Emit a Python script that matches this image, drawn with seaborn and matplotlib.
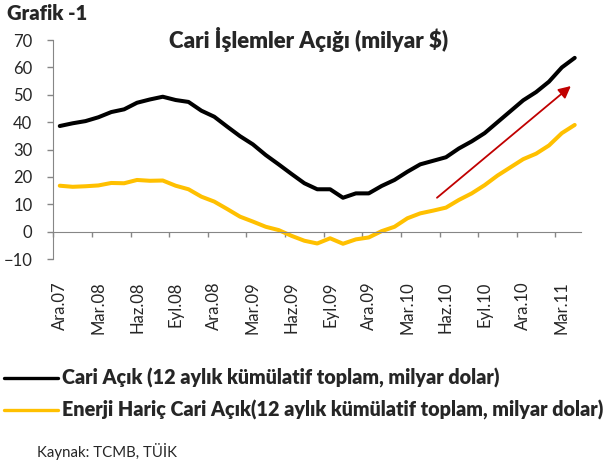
import matplotlib.pyplot as plt
import numpy as np
import pandas as pd
import seaborn as sns

# monthly, Ara.07 .. Nis.11 (41 months)
months = list(range(41))
cari_acik = [38.6, 39.6, 40.4, 41.8, 43.7, 44.7, 47.1, 48.3, 49.3, 48.1, 47.4,
             44.2, 42.0, 38.4, 34.9, 31.9, 28.0, 24.6, 21.1, 17.7, 15.5, 15.5,
             12.4, 14.0, 14.0, 16.7, 18.9, 21.9, 24.6, 25.9, 27.2, 30.4, 33.0,
             36.0, 40.0, 44.0, 48.0, 51.0, 54.8, 60.0, 63.5]
enerji_haric = [16.8, 16.4, 16.6, 16.9, 17.8, 17.7, 18.9, 18.6, 18.7, 16.8, 15.5,
                12.8, 11.0, 8.3, 5.5, 3.7, 1.8, 0.6, -1.5, -3.3, -4.3, -2.4,
                -4.4, -2.8, -2.1, 0.2, 1.8, 4.9, 6.7, 7.7, 8.8, 11.6, 14.0,
                17.0, 20.5, 23.5, 26.5, 28.5, 31.5, 36.0, 39.0]
tick_labels = ['Ara.07', 'Mar.08', 'Haz.08', 'Eyl.08', 'Ara.08', 'Mar.09', 'Haz.09',
               'Eyl.09', 'Ara.09', 'Mar.10', 'Haz.10', 'Eyl.10', 'Ara.10', 'Mar.11']
series_names = ['Cari Açık (12 aylık kümülatif toplam, milyar dolar)',
                'Enerji Hariç Cari Açık(12 aylık kümülatif toplam, milyar dolar)']

df = pd.DataFrame({'ay': months * 2,
                   'deger': cari_acik + enerji_haric,
                   'seri': [series_names[0]] * 41 + [series_names[1]] * 41})

sns.set_style('white')
plt.rcParams['font.family'] = ['Lato', 'DejaVu Sans']

gray = '#868686'
fig = plt.figure(figsize=(6.06, 4.68), dpi=100)
ax = fig.add_axes([0.088, 0.4464, 0.871, 0.468])

sns.lineplot(data=df, x='ay', y='deger', hue='seri', palette=['black', '#FFC000'],
             linewidth=2.9, ax=ax)
handles, labels = ax.get_legend_handles_labels()
ax.get_legend().remove()

ax.set_xlim(-0.5, 40.5)
ax.set_ylim(-10, 70)
ax.set_yticks(range(-10, 71, 10))
ax.set_xlabel('')
ax.set_ylabel('')

for s in ['top', 'right']:
    ax.spines[s].set_visible(False)
ax.spines['left'].set_color(gray)
ax.spines['bottom'].set_color(gray)
ax.spines['bottom'].set_position(('data', 0))

ax.tick_params(axis='y', direction='out', length=4, width=1, color=gray,
               pad=11, labelsize=12, left=True)
ax.set_xticks(np.arange(-0.5, 40, 3))
ax.set_xticklabels([])
ax.tick_params(axis='x', which='major', direction='out', length=3.5, width=1,
               color=gray, bottom=True)
ax.set_xticks(np.arange(0, 41, 3), minor=True)
ax.set_xticklabels(tick_labels, minor=True, rotation=90, va='top', ha='center')
ax.tick_params(axis='x', which='minor', length=0, pad=36, labelsize=12)

# trend arrow
ax.annotate('', xy=(39.7, 53.2), xytext=(29.3, 12.4),
            arrowprops=dict(arrowstyle='-|>', color='#C00000', lw=1.3,
                            mutation_scale=18, shrinkA=0, shrinkB=0))

fig.text(0.012, 1 - 13 / 468, 'Grafik -1', fontsize=14.5, fontweight='heavy',
         va='center', ha='left')
fig.text(309 / 606, 1 - 39 / 468, 'Cari İşlemler Açığı (milyar $)', fontsize=16,
         fontweight='heavy', va='center', ha='center')

for h in handles:
    h.set_linewidth(2.4)
fig.legend(handles, labels, loc='upper left', bbox_to_anchor=(0.0, 1 - 364 / 468),
           frameon=False, handlelength=2.75, handletextpad=0.2,
           labelspacing=0.6, borderaxespad=0, borderpad=0.2,
           prop={'weight': 'heavy', 'size': 14.2})
fig.text(37 / 606, 1 - 452 / 468, 'Kaynak: TCMB, TÜİK', fontsize=10.8,
         va='center', ha='left')

fig.savefig('out.png', dpi=100)
